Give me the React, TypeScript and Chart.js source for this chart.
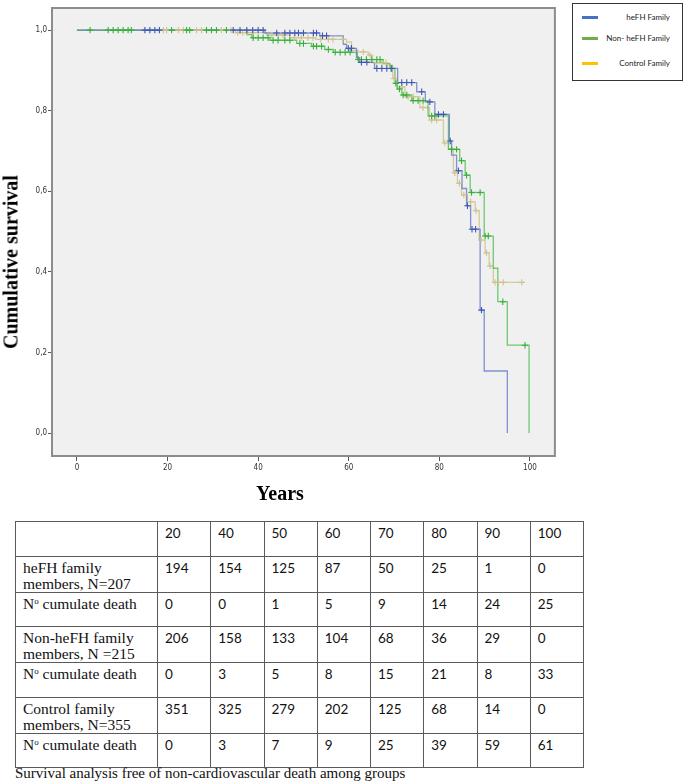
import React, { useEffect, useRef } from 'react';
import { Chart, registerables } from 'chart.js';

Chart.register(...registerables);

// ---------- axis ticks ----------
const xTicks = [0, 20, 40, 60, 80, 100];
const yTicks = [0, 0.2, 0.4, 0.6, 0.8, 1.0];

// ---------- Kaplan-Meier curves (event time, survival after event) ----------
const heFHTimes = [0, 41.5, 53.6, 58.8, 59.5, 61.7, 62.4, 65.7, 70.8, 75.0, 76.9, 79.0, 82.2, 82.7, 83.8, 85.0, 86.0, 86.9, 89.0, 89.9, 95.0];
const heFHSurv = [1, 0.993, 0.986, 0.965, 0.955, 0.932, 0.92, 0.905, 0.87, 0.847, 0.822, 0.791, 0.725, 0.69, 0.651, 0.607, 0.564, 0.506, 0.305, 0.154, 0];
const heFHCensored = [15.0, 16.1, 17.2, 18.2, 34.5, 36.0, 37.5, 38.8, 40.0, 41.1, 44.1, 45.9, 47.0, 48.1, 48.9, 50.0, 52.2, 52.9, 54.2, 55.1, 59.9, 60.6, 62.8, 64.0, 66.2, 67.3, 68.4, 69.5, 71.7, 72.8, 73.9, 76.1, 77.9, 79.8, 80.9, 82.4, 84.2, 86.2, 87.2, 88.0, 89.3];

const nonTimes = [0, 37.5, 38.6, 42.6, 48.5, 51.8, 54.7, 56.6, 61.9, 67.6, 69.1, 70.2, 70.7, 71.7, 73.9, 77.5, 82.0, 84.5, 85.7, 86.8, 89.9, 91.9, 92.9, 95.0, 99.8];
const nonSurv = [1, 0.989, 0.981, 0.975, 0.967, 0.96, 0.952, 0.945, 0.927, 0.917, 0.905, 0.868, 0.854, 0.839, 0.825, 0.787, 0.704, 0.676, 0.64, 0.597, 0.489, 0.409, 0.326, 0.218, 0];
const nonCensored = [2.9, 6.9, 8.0, 9.1, 10.2, 11.3, 12.0, 20.9, 24.2, 24.9, 28.6, 29.7, 30.8, 33.0, 38.9, 40.0, 41.1, 42.2, 43.3, 44.4, 45.9, 47.0, 49.2, 50.0, 52.2, 52.9, 54.0, 55.5, 57.0, 58.1, 59.2, 60.3, 62.1, 62.8, 63.9, 65.1, 66.2, 66.9, 69.3, 70.4, 71.2, 72.0, 72.8, 74.2, 75.3, 76.4, 78.3, 79.0, 82.7, 83.8, 84.9, 86.0, 87.1, 89.0, 90.1, 90.8, 94.0, 98.9];

const ctrlTimes = [0, 35.0, 41.9, 47.0, 52.7, 59.5, 60.6, 62.1, 64.3, 65.1, 68.4, 69.7, 70.6, 72.4, 75.7, 77.8, 80.9, 82.0, 83.1, 84.0, 84.9, 86.2, 87.9, 88.8, 90.1, 91.0, 91.9, 98.2];
const ctrlSurv = [1, 0.994, 0.988, 0.981, 0.977, 0.971, 0.95, 0.946, 0.938, 0.919, 0.913, 0.88, 0.859, 0.835, 0.808, 0.777, 0.72, 0.706, 0.646, 0.62, 0.591, 0.574, 0.552, 0.479, 0.447, 0.415, 0.374, 0.374];
const ctrlCensored = [19.1, 19.8, 22.4, 23.5, 26.4, 27.5, 31.9, 34.0, 35.5, 36.6, 37.7, 38.9, 43.0, 44.5, 45.5, 48.0, 49.5, 51.0, 52.1, 53.8, 55.5, 56.5, 58.7, 63.2, 64.7, 66.2, 67.3, 68.2, 70.0, 71.7, 73.1, 74.2, 76.4, 78.3, 79.4, 81.2, 83.4, 84.4, 85.4, 86.9, 88.1, 89.2, 90.4, 91.2, 92.3, 93.0, 94.1, 98.2];

// ---------- legend ----------
const legendLabels = ['heFH Family', 'Non- heFH Family', 'Control Family'];
const legendColors = ['#4472c4', '#70ad47', '#ffc000'];

// ---------- table ----------
const tableYears = ['20', '40', '50', '60', '70', '80', '90', '100'];
const heFHAtRisk = [194, 154, 125, 87, 50, 25, 1, 0];
const heFHDeaths = [0, 0, 1, 5, 9, 14, 24, 25];
const nonAtRisk = [206, 158, 133, 104, 68, 36, 29, 0];
const nonDeaths = [0, 3, 5, 8, 15, 21, 8, 33];
const ctrlAtRisk = [351, 325, 279, 202, 125, 68, 14, 0];
const ctrlDeaths = [0, 3, 7, 9, 25, 39, 59, 61];

const caption = 'Survival analysis free of non-cardiovascular death among groups';

function survAt(times: number[], surv: number[], t: number) {
  let s = surv[0];
  for (let i = 0; i < times.length; i++) if (times[i] <= t) s = surv[i];
  return s;
}

function curve(times: number[], surv: number[]) {
  return times.map((t, i) => ({ x: t, y: surv[i] }));
}

function marks(times: number[], surv: number[], cens: number[]) {
  return cens.map((t) => ({ x: t, y: survAt(times, surv, t) }));
}

const framePlugin = {
  id: 'frame',
  beforeDraw(chart: any) {
    const { ctx, chartArea } = chart;
    ctx.save();
    ctx.fillStyle = '#f0f0f0';
    ctx.fillRect(chartArea.left, chartArea.top, chartArea.right - chartArea.left, chartArea.bottom - chartArea.top);
    ctx.restore();
  },
  afterDraw(chart: any) {
    const { ctx, chartArea } = chart;
    ctx.save();
    ctx.strokeStyle = '#8c8c8c';
    ctx.lineWidth = 2;
    ctx.strokeRect(chartArea.left, chartArea.top, chartArea.right - chartArea.left, chartArea.bottom - chartArea.top);
    ctx.restore();
  },
};

const tickFont = { family: "'Liberation Sans Narrow', 'DejaVu Sans Condensed', sans-serif", size: 8 };

export default function App() {
  const ref = useRef<HTMLCanvasElement>(null);

  useEffect(() => {
    const lineDs = (label: string, data: any, color: string) => ({
      type: 'line' as const,
      label,
      data,
      stepped: 'before' as const,
      borderColor: color,
      borderWidth: 1.3,
      pointRadius: 0,
      fill: false,
      order: 1,
    });
    const markDs = (label: string, data: any, color: string) => ({
      type: 'scatter' as const,
      label,
      data,
      showLine: false,
      pointStyle: 'cross' as const,
      pointRadius: 3.2,
      borderWidth: 1.1,
      borderColor: color,
      backgroundColor: color,
      order: 0,
    });

    const chart = new Chart(ref.current!, {
      type: 'line',
      data: {
        datasets: [
          lineDs('heFH Family', curve(heFHTimes, heFHSurv), 'rgba(100,120,200,0.8)'),
          lineDs('Non- heFH Family', curve(nonTimes, nonSurv), 'rgba(80,190,80,0.8)'),
          lineDs('Control Family', curve(ctrlTimes, ctrlSurv), 'rgba(210,200,150,0.95)'),
          markDs('heFH censored', marks(heFHTimes, heFHSurv, heFHCensored), '#3f56b3'),
          markDs('Non- heFH censored', marks(nonTimes, nonSurv, nonCensored), '#36b036'),
          markDs('Control censored', marks(ctrlTimes, ctrlSurv, ctrlCensored), '#cfc38f'),
        ] as any,
      },
      options: {
        animation: false,
        responsive: false,
        devicePixelRatio: 1,
        layout: { padding: { left: 0, right: 5, top: 8, bottom: 0 } },
        plugins: { legend: { display: false }, tooltip: { enabled: false } },
        scales: {
          x: {
            type: 'linear',
            min: -5.5,
            max: 105.5,
            afterBuildTicks: (s: any) => { s.ticks = xTicks.map((v) => ({ value: v })); },
            afterFit: (s: any) => { s.height = 54; },
            ticks: { font: tickFont, color: '#333', padding: 2, maxRotation: 0, autoSkip: false },
            grid: { drawOnChartArea: false, drawTicks: true, tickLength: 5, color: '#555' },
            border: { display: false },
          },
          y: {
            type: 'linear',
            min: -0.057,
            max: 1.055,
            afterBuildTicks: (s: any) => { s.ticks = yTicks.map((v) => ({ value: v })); },
            afterFit: (s: any) => { s.width = 52; },
            ticks: {
              font: tickFont,
              color: '#333',
              padding: 1,
              autoSkip: false,
              callback: (v: any) => Number(v).toFixed(1).replace('.', ','),
            },
            grid: { drawOnChartArea: false, drawTicks: true, tickLength: 4, color: '#555' },
            border: { display: false },
          },
        },
      },
      plugins: [framePlugin],
    } as any);
    return () => chart.destroy();
  }, []);

  const numFont = "Lato, 'Open Sans', sans-serif";
  const serif = "'Liberation Serif', 'Times New Roman', serif";
  const cellBase: React.CSSProperties = {
    border: '1px solid #5a5a5a',
    verticalAlign: 'top',
    padding: '3px 0 0 7px',
    height: 34.6,
    boxSizing: 'border-box',
    lineHeight: '16px',
  };
  const numCell: React.CSSProperties = { ...cellBase, fontFamily: numFont, fontSize: 13.5, color: '#111' };
  const labelCell: React.CSSProperties = { ...cellBase, fontFamily: serif, fontSize: 15.5, color: '#111' };

  const sup = <sup style={{ fontSize: 9, verticalAlign: 'top', lineHeight: '10px' }}>o</sup>;
  const rows: { label: React.ReactNode; values: number[] }[] = [
    { label: <>heFH family<br />members, N=207</>, values: heFHAtRisk },
    { label: <>N{sup} cumulate death</>, values: heFHDeaths },
    { label: <>Non-heFH family<br />members, N =215</>, values: nonAtRisk },
    { label: <>N{sup} cumulate death</>, values: nonDeaths },
    { label: <>Control family<br />members, N=355</>, values: ctrlAtRisk },
    { label: <>N{sup} cumulate death</>, values: ctrlDeaths },
  ];

  return (
    <div style={{ position: 'absolute', left: 0, top: 0, width: 685, height: 783, background: '#fff', overflow: 'hidden' }}>
      <canvas ref={ref} width={560} height={510} style={{ position: 'absolute', left: 0, top: 0, width: 560, height: 510 }} />

      {/* y axis title */}
      <div
        style={{
          position: 'absolute', left: 11, top: 262, transform: 'translate(-50%, -50%) rotate(-90deg)',
          whiteSpace: 'nowrap', fontFamily: serif, fontWeight: 'bold', fontSize: 20, color: '#000',
        }}
      >
        Cumulative survival
      </div>
      {/* x axis title */}
      <div
        style={{
          position: 'absolute', left: 280, top: 493, transform: 'translate(-50%, -50%)',
          whiteSpace: 'nowrap', fontFamily: serif, fontWeight: 'bold', fontSize: 20, color: '#000',
        }}
      >
        Years
      </div>

      {/* legend */}
      <div style={{ position: 'absolute', left: 572, top: 3, width: 111, height: 78, border: '1px solid #333', boxSizing: 'border-box', background: '#fff' }}>
        {legendLabels.map((l, i) => (
          <div key={l} style={{ position: 'absolute', left: 0, top: [6, 27, 52][i], width: '100%', height: 14 }}>
            <div style={{ position: 'absolute', left: 9, top: 6, width: 16, height: 2.5, background: legendColors[i] }} />
            <div style={{ position: 'absolute', right: 12, top: 0, fontFamily: numFont, fontSize: 8, lineHeight: '14px', color: '#222', whiteSpace: 'nowrap' }}>{l}</div>
          </div>
        ))}
      </div>

      {/* table */}
      <table style={{ position: 'absolute', left: 15, top: 521, borderCollapse: 'collapse', tableLayout: 'fixed', width: 568 }}>
        <colgroup>
          <col style={{ width: 142 }} />
          {tableYears.map((y) => <col key={y} style={{ width: 53.25 }} />)}
        </colgroup>
        <tbody>
          <tr>
            <td style={labelCell}></td>
            {tableYears.map((y) => <td key={y} style={numCell}>{y}</td>)}
          </tr>
          {rows.map((r, i) => (
            <tr key={i}>
              <td style={labelCell}>{r.label}</td>
              {r.values.map((v, j) => <td key={j} style={numCell}>{v}</td>)}
            </tr>
          ))}
        </tbody>
      </table>

      <div style={{ position: 'absolute', left: 15, top: 765, fontFamily: serif, fontSize: 15, lineHeight: '17px', color: '#111', whiteSpace: 'nowrap' }}>
        {caption}
      </div>
    </div>
  );
}
